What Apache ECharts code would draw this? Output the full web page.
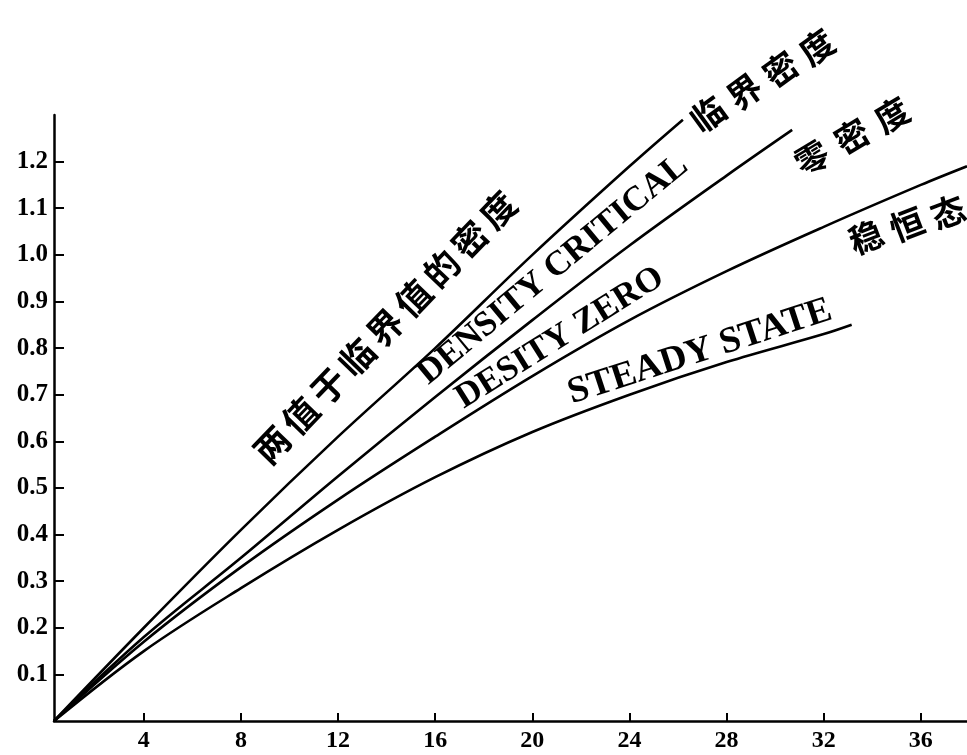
<!DOCTYPE html>
<html>
<head>
<meta charset="utf-8">
<style>
  html, body { margin: 0; padding: 0; background: #fff; }
  #chart { width: 967px; height: 755px; }
</style>
<script src="https://cdn.jsdelivr.net/npm/echarts@6/dist/echarts.min.js"></script>
</head>
<body>
<div id="chart"></div>
<script>
// Curves: x along the abscissa, y on the ordinate
const xCritical = [0.3, 4, 8, 12, 16, 20, 24, 26.2];
const yCritical = [0, 0.20, 0.41, 0.61, 0.80, 1.00, 1.19, 1.29];

const xZero = [0.3, 4, 8, 12, 16, 20, 24, 28, 30.7];
const yZero = [0, 0.18, 0.35, 0.525, 0.695, 0.86, 1.02, 1.17, 1.268];

const xSteady = [0.3, 4, 8, 12, 16, 20, 24, 28, 32, 36, 37.9];
const ySteady = [0, 0.17, 0.33, 0.475, 0.61, 0.74, 0.86, 0.965, 1.06, 1.15, 1.19];

const xLow = [0.3, 4, 8, 12, 16, 20, 24, 28, 32, 33.15];
const yLow = [0, 0.15, 0.285, 0.41, 0.523, 0.62, 0.70, 0.77, 0.83, 0.85];

// Tick labels
const xTicks = [4, 8, 12, 16, 20, 24, 28, 32, 36];
const yTicks = [0.1, 0.2, 0.3, 0.4, 0.5, 0.6, 0.7, 0.8, 0.9, 1.0, 1.1, 1.2];

const pairs = (xs, ys) => xs.map((x, i) => [x, ys[i]]);

const SERIF = '"Liberation Serif", "DejaVu Serif", serif';
const CJK = '"Noto Sans CJK SC", "Noto Sans CJK JP", sans-serif';

function lineSeries(name, xs, ys) {
  return {
    name, type: 'line', data: pairs(xs, ys),
    smooth: 0.35, symbol: 'none',
    lineStyle: { color: '#000', width: 2.6 },
    z: 3
  };
}

// One rotated text run
function runText(text, x, y, deg, size, family, weight) {
  return {
    type: 'text', x, y, rotation: deg * Math.PI / 180,
    style: {
      text, fill: '#000', fontSize: size, fontFamily: family,
      fontWeight: weight || 'bold', align: 'center', verticalAlign: 'middle'
    },
    z: 10
  };
}

// Characters laid one by one between a first and last centre
function charsAlong(text, x0, y0, x1, y1, deg, size) {
  const chars = Array.from(text);
  const n = chars.length - 1;
  return chars.map((c, i) =>
    runText(c, x0 + (x1 - x0) * i / n, y0 + (y1 - y0) * i / n, deg, size, CJK, 'bold'));
}

const graphics = [
  ...charsAlong('两值于临界值的密度', 272, 445, 498, 210, 46, 35),
  runText('DENSITY CRITICAL', 553, 270, 39.7, 35, SERIF),
  runText('DESITY ZERO', 560, 338, 32, 35, SERIF),
  runText('STEADY STATE', 700, 352, 18, 37, SERIF),
  ...charsAlong('临界密度', 708, 114, 817, 47, 36, 34),
  ...charsAlong('零密度', 812, 158, 892, 115, 31, 34),
  ...charsAlong('稳恒态', 866, 237, 948, 212, 21, 34)
];

const chart = echarts.init(document.getElementById('chart'), null, { renderer: 'canvas' });
chart.setOption({
  backgroundColor: '#fff',
  animation: false,
  grid: { left: 54, right: 0, top: 115, bottom: 34, containLabel: false },
  xAxis: {
    type: 'value', min: 0.3, max: 37.9,
    axisLine: { show: true, lineStyle: { color: '#000', width: 2.5 } },
    axisTick: { show: true, inside: true, length: 8, customValues: xTicks,
                lineStyle: { color: '#000', width: 2 } },
    axisLabel: { customValues: xTicks, margin: 8, color: '#000',
                 fontSize: 24, fontWeight: 'bold', fontFamily: SERIF },
    splitLine: { show: false }
  },
  yAxis: {
    type: 'value', min: 0, max: 1.3,
    axisLine: { show: true, lineStyle: { color: '#000', width: 2.5 } },
    axisTick: { show: true, inside: true, length: 10, customValues: yTicks,
                lineStyle: { color: '#000', width: 2 } },
    axisLabel: { customValues: yTicks, margin: 6, color: '#000',
                 fontSize: 25, fontWeight: 'bold', fontFamily: SERIF,
                 formatter: v => v.toFixed(1) },
    splitLine: { show: false }
  },
  series: [
    lineSeries('临界密度', xCritical, yCritical),
    lineSeries('零密度', xZero, yZero),
    lineSeries('稳恒态', xSteady, ySteady),
    lineSeries('STEADY STATE', xLow, yLow)
  ],
  graphic: graphics
});
</script>
</body>
</html>
